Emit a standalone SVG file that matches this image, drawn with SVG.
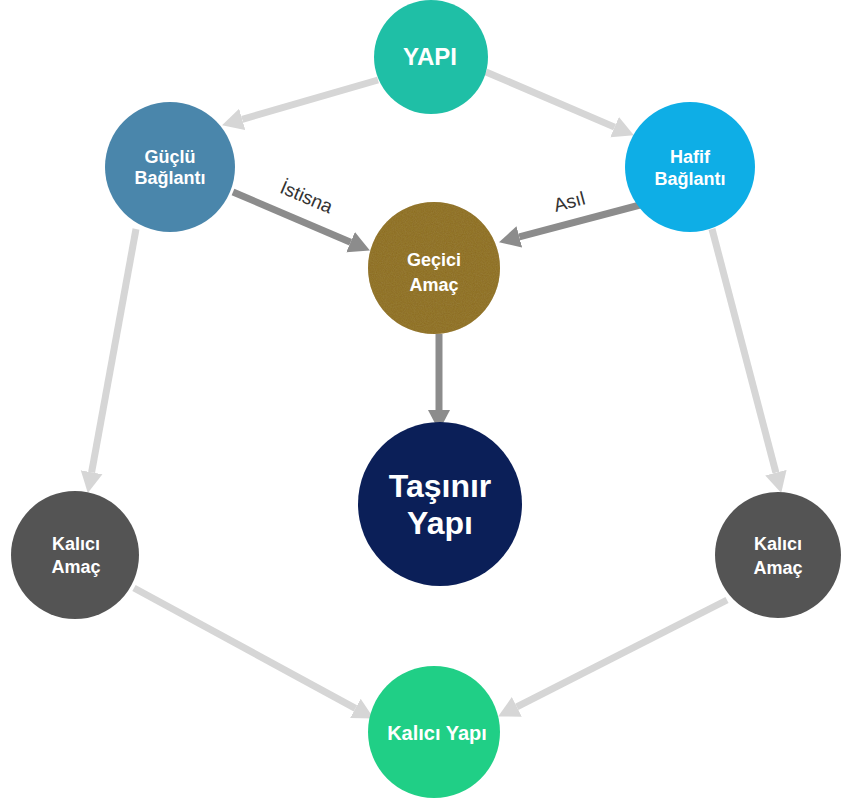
<svg xmlns="http://www.w3.org/2000/svg" width="841" height="803" viewBox="0 0 841 803">
<style>
.lite{stroke:#d6d6d6;stroke-width:7;fill:none;marker-end:url(#ahL)}
.dark{stroke:#8c8c8c;stroke-width:7;fill:none;marker-end:url(#ahD)}
.lbl{font-family:"Liberation Sans",Arial,Helvetica,sans-serif;font-weight:bold;fill:#ffffff;text-anchor:middle}
.elab{font-family:"Liberation Sans",Arial,Helvetica,sans-serif;font-size:19px;fill:#333333;text-anchor:middle}
</style>
<defs>
<marker id="ahL" markerUnits="userSpaceOnUse" markerWidth="22" markerHeight="24" refX="0" refY="12" orient="auto"><path d="M0,1 L21,12 L0,23 z" fill="#d6d6d6"/></marker>
<marker id="ahD" markerUnits="userSpaceOnUse" markerWidth="22" markerHeight="24" refX="0" refY="12" orient="auto"><path d="M0,1 L21,12 L0,23 z" fill="#8c8c8c"/></marker>
<filter id="grain" x="0" y="0" width="100%" height="100%">
<feTurbulence type="fractalNoise" baseFrequency="0.9" numOctaves="2" seed="3" result="n"/>
<feColorMatrix in="n" type="matrix" values="0 0 0 0 0.35  0 0 0 0 0.25  0 0 0 0 0.05  0 0 0 0.6 0" result="c"/>
<feComposite in="c" in2="SourceGraphic" operator="in" result="g"/>
<feMerge><feMergeNode in="SourceGraphic"/><feMergeNode in="g"/></feMerge>
</filter>
</defs>
<rect width="841" height="803" fill="#ffffff"/>
<g id="connectors">
<line class="lite" x1="378" y1="80" x2="242.2" y2="119.4"/>
<line class="lite" x1="486" y1="72" x2="614.6" y2="127.1"/>
<line class="lite" x1="136" y1="229" x2="91.6" y2="472.3"/>
<line class="lite" x1="712" y1="229" x2="775.9" y2="472.7"/>
<line class="lite" x1="134" y1="588" x2="355.4" y2="708.4"/>
<line class="lite" x1="727" y1="600" x2="516.8" y2="706.9"/>
<line class="dark" x1="233" y1="192" x2="350.6" y2="242.2"/>
<line class="dark" x1="640" y1="205" x2="519.3" y2="236.9"/>
<line class="dark" x1="439" y1="334" x2="439" y2="410"/>
<text class="elab" transform="translate(304,203) rotate(23)">İstisna</text>
<text class="elab" transform="translate(571,208) rotate(-15)">Asıl</text>
</g>
<g id="yapi">
<circle cx="431" cy="57" r="57" fill="#1fbfa6"/>
<text class="lbl" x="430" y="65" font-size="24">YAPI</text>
</g>
<g id="guclu">
<circle cx="170" cy="167" r="65" fill="#4a86ab"/>
<text class="lbl" x="170" y="163" font-size="18">Güçlü</text>
<text class="lbl" x="170" y="184" font-size="18">Bağlantı</text>
</g>
<g id="hafif">
<circle cx="690" cy="167" r="65" fill="#0eaee6"/>
<text class="lbl" x="690" y="163" font-size="18">Hafif</text>
<text class="lbl" x="690" y="185" font-size="18">Bağlantı</text>
</g>
<g id="gecici">
<circle cx="434" cy="268" r="66" fill="#8b6a24" filter="url(#grain)"/>
<text class="lbl" x="434" y="266" font-size="18">Geçici</text>
<text class="lbl" x="434" y="291" font-size="18">Amaç</text>
</g>
<g id="tasinir">
<circle cx="440" cy="504" r="82" fill="#0b1f58"/>
<text class="lbl" x="440" y="497" font-size="32">Taşınır</text>
<text class="lbl" x="440" y="534" font-size="32">Yapı</text>
</g>
<g id="kalici-amac-sol">
<circle cx="75" cy="555" r="64" fill="#545454"/>
<text class="lbl" x="76" y="550" font-size="18">Kalıcı</text>
<text class="lbl" x="76" y="573" font-size="18">Amaç</text>
</g>
<g id="kalici-amac-sag">
<circle cx="778" cy="555" r="63" fill="#545454"/>
<text class="lbl" x="778" y="550" font-size="18">Kalıcı</text>
<text class="lbl" x="778" y="574" font-size="18">Amaç</text>
</g>
<g id="kalici-yapi">
<circle cx="434" cy="732" r="66" fill="#20cf86"/>
<text class="lbl" x="437" y="740" font-size="20">Kalıcı Yapı</text>
</g>
</svg>
